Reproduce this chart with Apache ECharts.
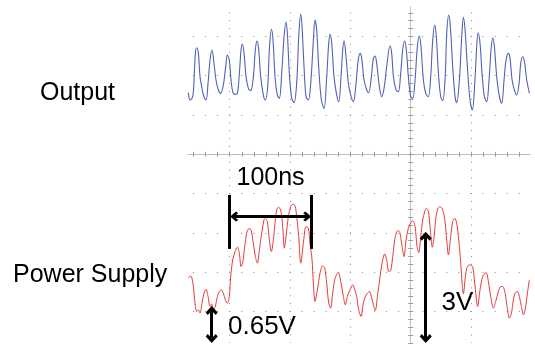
<!DOCTYPE html>
<html><head><meta charset="utf-8">
<script src="https://cdn.jsdelivr.net/npm/echarts@6/dist/echarts.min.js"></script>
<style>html,body{margin:0;padding:0;background:#fff}#c{width:535px;height:349px}</style>
</head><body><div id="c"></div>
<script>
// Time in screen divisions (0 = centre graticule line), level in vertical divisions (0 = centre line)
const outputT = [-3.685,-3.657,-3.613,-3.591,-3.569,-3.547,-3.519,-3.492,-3.464,-3.436,-3.392,-3.359,-3.326,-3.293,-3.260,-3.227,-3.188,-3.149,-3.105,-3.066,-3.039,-3.006,-2.983,-2.950,-2.912,-2.873,-2.840,-2.812,-2.790,-2.762,-2.729,-2.691,-2.652,-2.608,-2.575,-2.547,-2.519,-2.486,-2.442,-2.409,-2.370,-2.343,-2.309,-2.282,-2.249,-2.210,-2.177,-2.138,-2.099,-2.066,-2.044,-2.011,-1.972,-1.934,-1.890,-1.856,-1.823,-1.801,-1.768,-1.735,-1.696,-1.657,-1.613,-1.586,-1.558,-1.525,-1.481,-1.436,-1.392,-1.359,-1.337,-1.309,-1.271,-1.227,-1.193,-1.155,-1.127,-1.105,-1.072,-1.033,-0.994,-0.950,-0.912,-0.873,-0.840,-0.812,-0.773,-0.729,-0.696,-0.652,-0.619,-0.591,-0.564,-0.519,-0.481,-0.442,-0.398,-0.343,-0.315,-0.287,-0.243,-0.204,-0.166,-0.133,-0.099,-0.072,-0.039,0.000,0.033,0.072,0.110,0.144,0.171,0.210,0.249,0.293,0.331,0.365,0.398,0.425,0.459,0.497,0.530,0.569,0.597,0.630,0.657,0.696,0.735,0.762,0.807,0.845,0.873,0.901,0.939,0.983,1.022,1.061,1.094,1.116,1.149,1.182,1.221,1.260,1.298,1.331,1.359,1.387,1.425,1.470,1.508,1.547,1.580,1.619,1.646,1.680,1.718,1.757,1.796,1.823,1.856,1.884,1.923,1.967];
const outputV = [1.568,1.381,1.466,1.890,2.568,2.712,2.568,1.975,1.720,1.508,1.381,1.805,2.398,2.653,2.314,1.890,1.636,1.551,1.763,2.229,2.525,2.398,1.975,1.593,1.525,1.551,2.059,2.653,2.805,2.568,1.975,1.678,1.619,1.975,2.653,2.881,2.653,1.975,1.508,1.381,1.720,2.653,3.178,2.907,1.975,1.508,1.424,2.059,2.992,3.364,3.076,2.059,1.424,1.314,1.805,2.992,3.568,3.246,2.229,1.466,1.381,1.805,2.907,3.415,3.161,2.229,1.381,1.169,1.975,2.822,3.051,2.822,1.975,1.508,1.339,1.975,2.653,2.890,2.483,1.805,1.508,1.339,1.720,2.356,2.568,2.441,1.890,1.636,1.568,1.975,2.441,2.500,2.314,1.720,1.466,1.678,2.229,2.763,2.568,1.975,1.636,1.593,2.059,2.653,2.881,2.653,1.975,1.466,1.424,1.890,2.737,3.008,2.737,1.890,1.551,1.466,1.975,2.907,3.288,2.992,2.059,1.466,1.364,1.890,3.076,3.542,3.246,2.229,1.466,1.314,1.890,2.992,3.483,3.161,2.229,1.381,1.127,1.805,2.737,3.093,2.822,2.059,1.466,1.339,1.890,2.653,2.966,2.737,1.975,1.466,1.297,1.890,2.398,2.568,2.441,1.890,1.636,1.508,1.805,2.314,2.483,2.373,1.890,1.551];
const supplyT = [-3.685,-3.646,-3.613,-3.591,-3.569,-3.547,-3.519,-3.492,-3.459,-3.425,-3.392,-3.359,-3.326,-3.298,-3.271,-3.238,-3.204,-3.171,-3.138,-3.105,-3.072,-3.039,-3.006,-2.983,-2.950,-2.912,-2.873,-2.840,-2.812,-2.785,-2.751,-2.718,-2.680,-2.646,-2.608,-2.575,-2.541,-2.508,-2.470,-2.431,-2.409,-2.376,-2.343,-2.309,-2.276,-2.249,-2.221,-2.193,-2.155,-2.122,-2.094,-2.066,-2.028,-1.989,-1.956,-1.917,-1.890,-1.856,-1.823,-1.779,-1.735,-1.696,-1.669,-1.635,-1.613,-1.586,-1.547,-1.503,-1.459,-1.425,-1.392,-1.359,-1.326,-1.293,-1.254,-1.199,-1.160,-1.116,-1.083,-1.050,-1.006,-0.961,-0.928,-0.895,-0.862,-0.823,-0.785,-0.751,-0.718,-0.685,-0.652,-0.619,-0.586,-0.552,-0.508,-0.475,-0.431,-0.398,-0.365,-0.331,-0.298,-0.265,-0.232,-0.204,-0.177,-0.144,-0.110,-0.077,-0.039,0.000,0.033,0.072,0.105,0.133,0.166,0.199,0.232,0.260,0.293,0.320,0.359,0.387,0.420,0.453,0.486,0.530,0.569,0.597,0.624,0.663,0.696,0.729,0.762,0.796,0.829,0.856,0.873,0.906,0.939,0.983,1.028,1.061,1.110,1.149,1.193,1.249,1.287,1.326,1.370,1.409,1.453,1.492,1.525,1.564,1.597,1.635,1.669,1.702,1.735,1.768,1.801,1.834,1.867,1.901,1.934,1.967];
const supplyV = [-3.153,-3.093,-3.237,-3.534,-3.873,-4.000,-3.958,-4.042,-3.788,-3.534,-3.432,-3.619,-3.873,-3.805,-3.958,-3.873,-3.619,-3.492,-3.449,-3.534,-3.703,-3.788,-3.619,-3.110,-2.686,-2.475,-2.364,-2.517,-2.856,-2.771,-2.347,-2.008,-1.890,-1.924,-2.263,-2.602,-2.771,-2.432,-2.008,-1.669,-1.627,-1.712,-2.178,-2.475,-2.178,-1.754,-1.415,-1.347,-1.415,-1.839,-2.390,-2.093,-1.585,-1.331,-1.271,-1.314,-1.585,-2.093,-2.771,-2.263,-1.839,-1.881,-2.263,-2.686,-3.280,-3.746,-3.449,-3.025,-2.839,-2.898,-3.280,-3.788,-3.915,-3.534,-3.153,-3.008,-3.237,-3.619,-3.831,-3.619,-3.449,-3.322,-3.449,-3.619,-3.958,-4.127,-3.788,-3.619,-3.534,-3.492,-3.619,-3.831,-3.975,-3.619,-3.110,-2.771,-2.534,-2.686,-2.983,-2.958,-2.602,-2.178,-1.966,-1.941,-2.008,-2.347,-2.602,-2.178,-1.881,-1.754,-1.686,-1.839,-2.347,-2.500,-2.093,-1.669,-1.458,-1.373,-1.458,-1.839,-2.364,-2.093,-1.585,-1.373,-1.331,-1.415,-1.712,-2.178,-2.559,-2.093,-1.712,-1.627,-1.754,-2.178,-2.771,-3.364,-3.551,-3.110,-2.856,-2.814,-2.873,-3.280,-3.873,-3.449,-3.110,-3.008,-3.237,-3.619,-3.915,-3.746,-3.492,-3.364,-3.364,-3.534,-3.873,-4.169,-4.042,-3.703,-3.517,-3.492,-3.619,-3.873,-4.085,-3.915,-3.534,-3.195];
// Annotations (same units)
const spanMark = {from: -3.0, to: -1.641, barTop: -1.034, barBottom: -2.407, arrowLevel: -1.585, label: '100ns'};
const rippleMark = {at: -3.298, top: -3.975, bottom: -4.687, label: '0.65V'};
const swingMark = {at: 0.249, top: -2.084, bottom: -4.687, label: '3V'};
const traceNames = ['Output', 'Power Supply'];
const xDivLines = [-3, -2, -1, 1];
const yDivLines = [-4, -3, -2, -1, 1, 2, 3];

const X_MIN = -3.691, X_MAX = 1.977, Y_MIN = -4.802, Y_MAX = 3.748;
function minorTicks(lo, hi, step) {
  const a = [];
  for (let k = Math.ceil(lo / step + 1e-9); k <= Math.floor(hi / step - 1e-9); k++) a.push(+(k * step).toFixed(3));
  return a;
}
const xMinor = minorTicks(X_MIN, X_MAX, 0.2);
const yMinor = minorTicks(Y_MIN, Y_MAX, 0.2);
const axisGray = '#bdbdbd', tickGray = '#9a9a9a', dotGray = '#8a8a8a';

function tickAxis(min, max, ticks, position, showLine) {
  return {
    type: 'value', min: min, max: max, position: position,
    axisLine: {show: true, onZero: true, onZeroAxisIndex: 0,
      lineStyle: {color: showLine ? axisGray : 'rgba(0,0,0,0)', width: 1}},
    axisTick: {show: true, inside: false, length: 2.5, customValues: ticks, lineStyle: {color: tickGray, width: 1}},
    axisLabel: {show: false}, splitLine: {show: false}, minorTick: {show: false}
  };
}
function gridAxis(min, max, lines, dash, offset) {
  return {
    type: 'value', min: min, max: max,
    axisLine: {show: false, onZero: false},
    axisTick: {show: false, customValues: lines},
    axisLabel: {show: false},
    splitLine: {show: true, lineStyle: {color: dotGray, width: 1, type: dash, dashOffset: offset}}
  };
}
const zip = (a, b) => a.map((v, i) => [v, b[i]]);
const chevron = 'path://M6,0 L12,6.5 L10,9 L6,4.8 L2,9 L0,6.5 Z';

const chart = echarts.init(document.getElementById('c'), null, {renderer: 'canvas'});
chart.setOption({
  animation: false,
  backgroundColor: '#ffffff',
  grid: {left: 188, right: 5, top: 7, bottom: 6, containLabel: false, outerBoundsMode: 'none'},
  xAxis: [
    tickAxis(X_MIN, X_MAX, xMinor, 'bottom', true),
    tickAxis(X_MIN, X_MAX, xMinor, 'top', false),
    gridAxis(X_MIN, X_MAX, xDivLines, [1, 6.86], 2.56)
  ],
  yAxis: [
    tickAxis(Y_MIN, Y_MAX, yMinor, 'left', true),
    tickAxis(Y_MIN, Y_MAX, yMinor, 'right', false),
    gridAxis(Y_MIN, Y_MAX, yDivLines, [1, 11.066], 7.066)
  ],
  series: [
    {type: 'line', name: traceNames[0], data: zip(outputT, outputV), showSymbol: false, smooth: 0.35,
     lineStyle: {color: '#4f63b6', width: 1.1}, silent: true},
    {type: 'line', name: traceNames[1], data: zip(supplyT, supplyV), showSymbol: false, smooth: 0.3,
     lineStyle: {color: '#e63b3b', width: 1.0}, silent: true,
     markLine: {
       silent: true, animation: false,
       symbol: [chevron, chevron], symbolSize: [12, 9],
       label: {show: false},
       lineStyle: {color: '#000', width: 3, type: 'solid'},
       emphasis: {disabled: true},
       data: [
         [{coord: [spanMark.from, spanMark.barTop], symbol: 'none'}, {coord: [spanMark.from, spanMark.barBottom], symbol: 'none'}],
         [{coord: [spanMark.to, spanMark.barTop], symbol: 'none'}, {coord: [spanMark.to, spanMark.barBottom], symbol: 'none'}],
         [{coord: [spanMark.from + 0.074, spanMark.arrowLevel], symbolSize: [10, 8]}, {coord: [spanMark.to - 0.075, spanMark.arrowLevel], symbolSize: [10, 8]}],
         [{coord: [rippleMark.at, rippleMark.top]}, {coord: [rippleMark.at, rippleMark.bottom]}],
         [{coord: [swingMark.at, swingMark.top]}, {coord: [swingMark.at, swingMark.bottom]}]
       ]
     }}
  ],
  graphic: [
    {type: 'text', x: 40, y: 93, silent: true, style: {text: traceNames[0], font: '25px "Liberation Sans", Arial, sans-serif', fill: '#000', verticalAlign: 'middle'}},
    {type: 'text', x: 13, y: 275, silent: true, style: {text: traceNames[1], font: '25px "Liberation Sans", Arial, sans-serif', fill: '#000', verticalAlign: 'middle'}},
    {type: 'text', x: 236.5, y: 178, silent: true, style: {text: spanMark.label, font: '25px "Liberation Sans", Arial, sans-serif', fill: '#000', verticalAlign: 'middle'}},
    {type: 'text', x: 228, y: 326.5, silent: true, style: {text: rippleMark.label, font: '26px "Liberation Sans", Arial, sans-serif', fill: '#000', verticalAlign: 'middle'}},
    {type: 'text', x: 441.5, y: 302.5, silent: true, style: {text: swingMark.label, font: '26px "Liberation Sans", Arial, sans-serif', fill: '#000', verticalAlign: 'middle'}}
  ]
});
</script>
</body></html>
